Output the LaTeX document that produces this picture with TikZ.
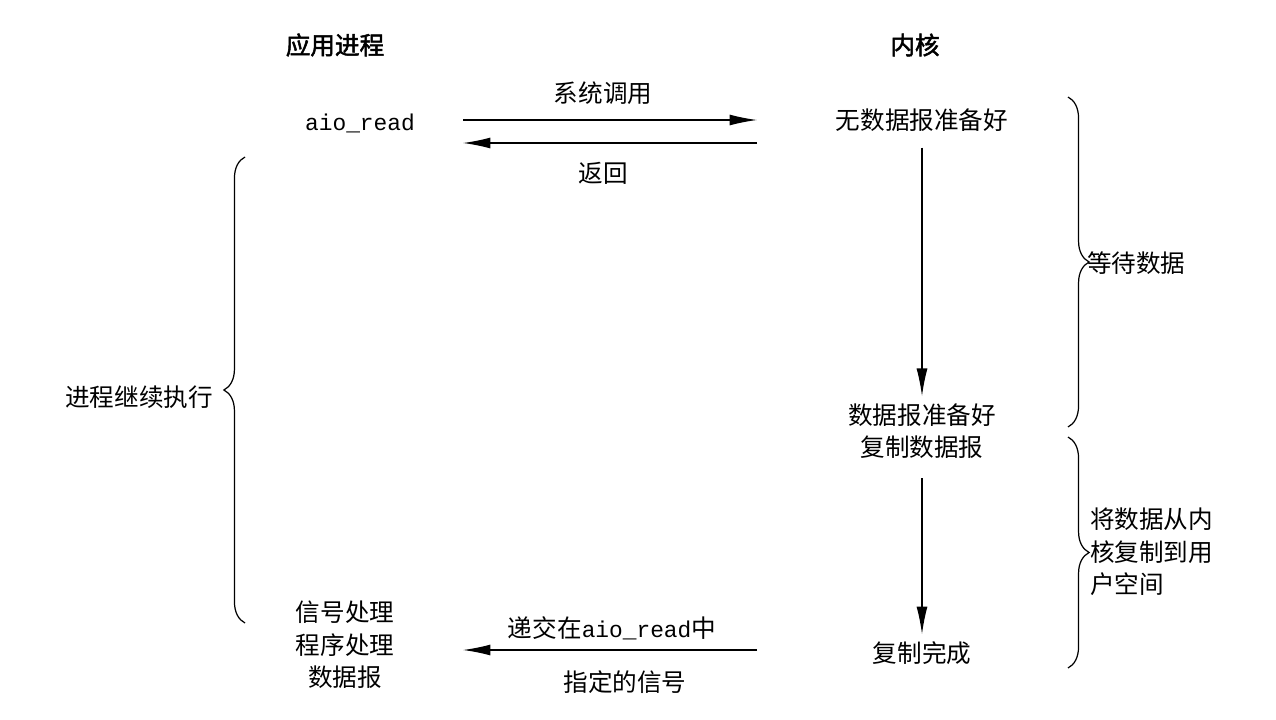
\documentclass[tikz,border=0pt]{standalone}
\usepackage{fontspec}
\setmainfont{Noto Sans CJK SC}
\newfontfamily\cjkb{Noto Sans CJK SC}[FakeBold=2]
\newfontfamily\mono{Liberation Mono}
\usetikzlibrary{arrows.meta,decorations.pathreplacing}
\begin{document}
\begin{tikzpicture}[x=0.02cm,y=-0.02cm,
  txt/.style={inner sep=1pt,font=\fontsize{14}{18.5}\selectfont,align=center},
  arr/.style={-{Latex[length=0.55cm,width=0.22cm]},line width=0.7pt},
  br/.style={decorate,decoration={brace,amplitude=12pt},line width=0.7pt}]
\useasboundingbox (0,0) rectangle (1276,720);
\node[txt] (h1) at (335,45) {\cjkb 应用进程};
\node[txt] (h2) at (915,45) {\cjkb 内核};
\node[txt] (aio) at (360,123) {\fontsize{13}{16}\mono aio\_read};
\coordinate (a1s) at (463,120); \coordinate (a1e) at (757,120);
\coordinate (a2s) at (757,143); \coordinate (a2e) at (463,143);
\draw[arr] (a1s) -- (a1e);
\draw[arr] (a2s) -- (a2e);
\node[txt] (sys) at (603,93) {系统调用};
\node[txt] (ret) at (603,173) {返回};
\node[txt] (k1) at (922,120) {无数据报准备好};
\node[txt] (k2) at (922,431) {数据报准备好\\复制数据报};
\node[txt] (k3) at (922,653) {复制完成};
\draw[arr,shorten <=8pt,shorten >=3pt] (k1.south) -- (k2.north);
\draw[arr,shorten <=10pt,shorten >=3pt] (k2.south) -- (k3.north);
\node[txt] (sig) at (345,645) {信号处理\\程序处理\\数据报};
\coordinate (a3s) at (757,650); \coordinate (a3e) at (463,650);
\draw[arr] (a3s) -- (a3e);
\node[txt] (dl1) at (612,628) {递交在{\fontsize{13}{16}\mono aio\_read}中};
\node[txt] (dl2) at (625,682) {指定的信号};
\coordinate (b1t) at (1068,97); \coordinate (b1b) at (1068,427);
\draw[br] (b1t) -- (b1b);
\node[txt,anchor=west] (w) at (1085,263) {等待数据};
\coordinate (b2t) at (1068,437); \coordinate (b2b) at (1068,668);
\draw[br] (b2t) -- (b2b);
\node[txt,anchor=west,align=left] (c) at (1088,552) {将数据从内\\核复制到用\\户空间};
\coordinate (b3t) at (245,157); \coordinate (b3b) at (245,623);
\draw[br] (b3b) -- (b3t);
\node[txt,anchor=east] (p) at (215,397) {进程继续执行};
\end{tikzpicture}
\end{document}
